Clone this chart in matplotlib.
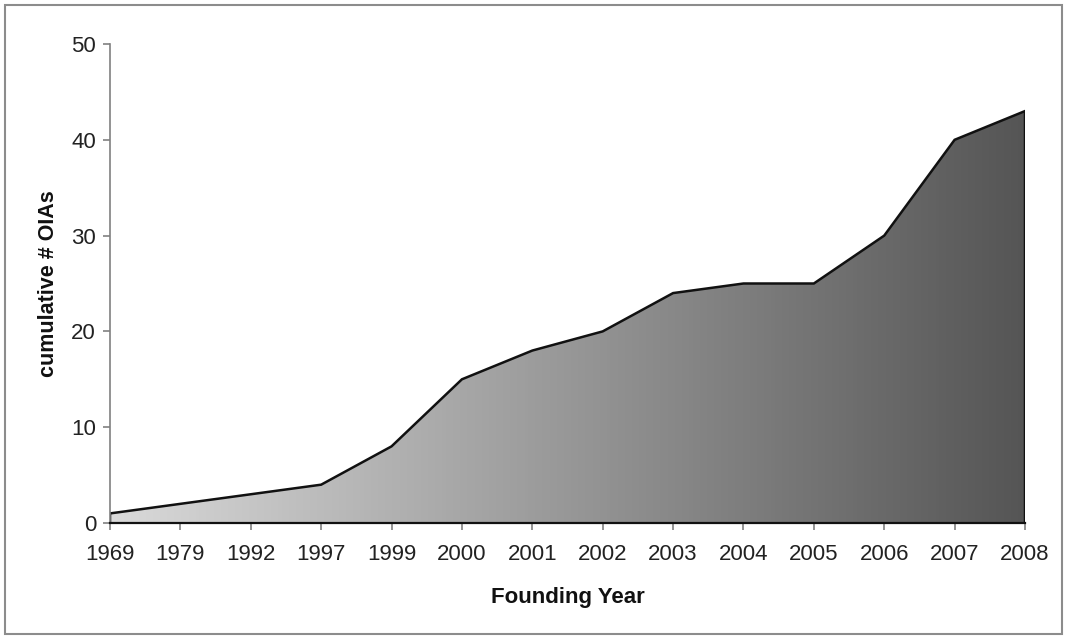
import numpy as np
import matplotlib
matplotlib.use("Agg")
import matplotlib.pyplot as plt
from matplotlib.colors import LinearSegmentedColormap
from matplotlib.patches import Rectangle

years = ["1969", "1979", "1992", "1997", "1999", "2000", "2001",
         "2002", "2003", "2004", "2005", "2006", "2007", "2008"]
cumulative = [1, 2, 3, 4, 8, 15, 18, 20, 24, 25, 25, 30, 40, 43]
y_ticks = [0, 10, 20, 30, 40, 50]

plt.rcParams["font.family"] = ["Liberation Sans", "DejaVu Sans"]

fig = plt.figure(figsize=(10.65, 6.37), dpi=100)
fig.patches.append(Rectangle((5 / 1065, 3 / 637), 1057 / 1065, 629 / 637,
                             transform=fig.transFigure, fill=False,
                             edgecolor="#8c8c8c", linewidth=1.5))

ax = fig.add_axes([110 / 1065, 1 - 523 / 637, 915 / 1065, 479 / 637])
x = np.arange(len(years))

# area outline and gradient fill clipped to it
poly = ax.fill_between(x, 0, cumulative, facecolor="none", edgecolor="none")
grad = np.linspace(0, 1, 256).reshape(1, -1)
cmap = LinearSegmentedColormap.from_list("greys", ["#dadada", "#555555"])
img = ax.imshow(grad, cmap=cmap, aspect="auto",
                extent=[x[0], x[-1], 0, max(cumulative)], zorder=1)
img.set_clip_path(poly.get_paths()[0], transform=ax.transData)
ax.plot(np.r_[x[0], x, x[-1]], np.r_[0, cumulative, 0], color="#111111",
        linewidth=1.8, zorder=3, solid_joinstyle="miter")

ax.set_xlim(x[0], x[-1])
ax.set_ylim(0, 50)
ax.set_xticks(x)
ax.set_xticklabels(years)
ax.set_yticks(y_ticks)

for s in ["top", "right"]:
    ax.spines[s].set_visible(False)
ax.spines["left"].set_color("#808080")
ax.spines["left"].set_linewidth(1.2)
ax.spines["bottom"].set_color("#111111")
ax.spines["bottom"].set_linewidth(1.6)
ax.spines["left"].set_zorder(4)
ax.spines["bottom"].set_zorder(4)

ax.tick_params(axis="both", labelsize=16, colors="#222222", length=5,
               width=1.2, direction="out")
ax.tick_params(axis="y", color="#808080", pad=5)
ax.tick_params(axis="x", color="#808080", pad=10)

ax.set_xlabel("Founding Year", fontsize=16, fontweight="bold", labelpad=16,
              color="#111111")
ax.set_ylabel("cumulative # OIAs", fontsize=15.5, fontweight="bold", labelpad=9,
              color="#111111")

fig.savefig("out.png", dpi=100)
